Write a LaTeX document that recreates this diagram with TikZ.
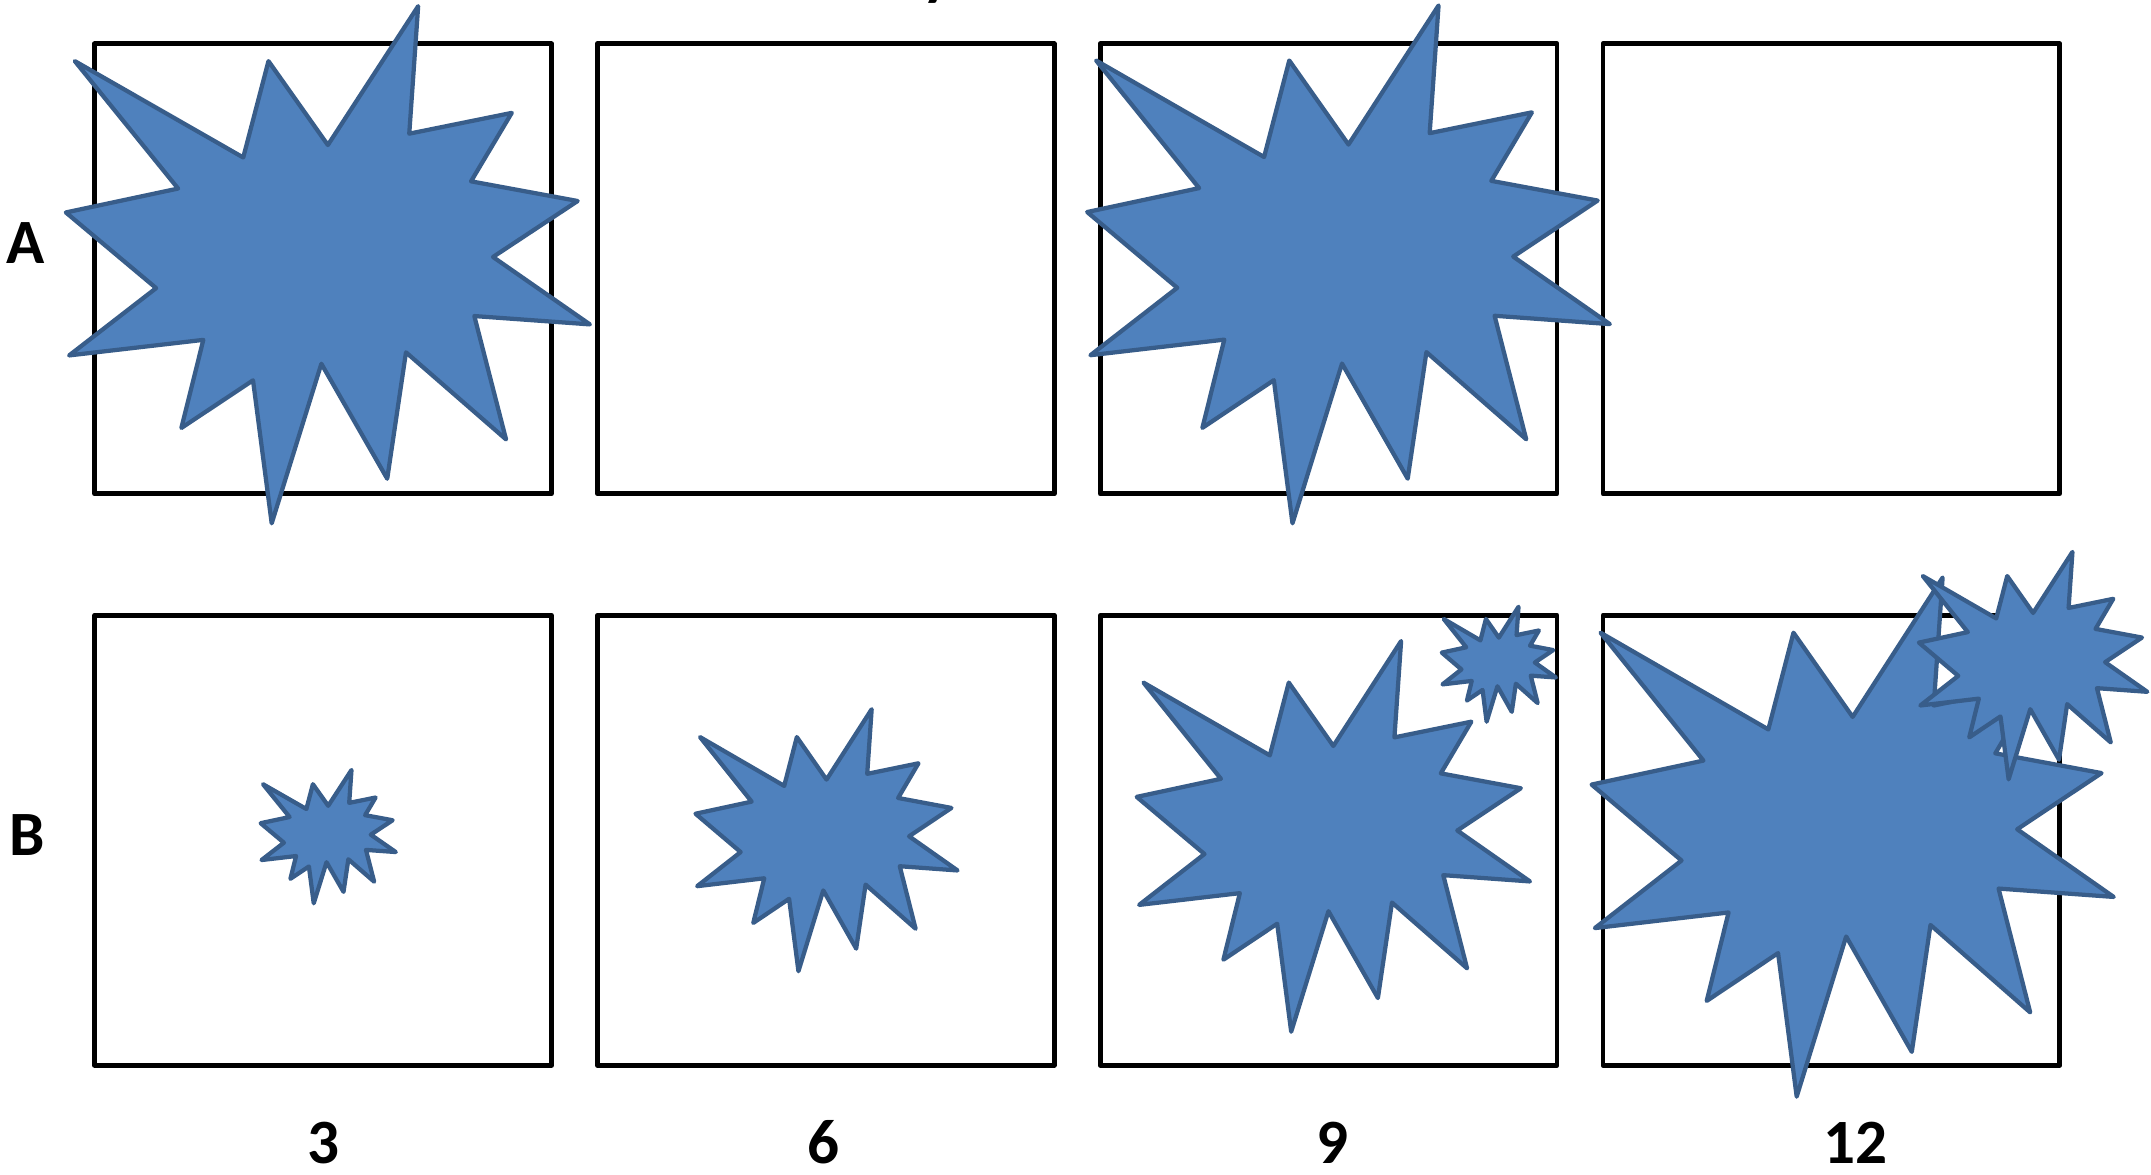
\documentclass[tikz,border=0pt]{standalone}
\usepackage{fontspec}
\setmainfont{Carlito}
\definecolor{sealfill}{HTML}{4F81BD}
\definecolor{sealdraw}{HTML}{385D8A}
\tikzset{
  panel/.style={draw=black, line width=3.6pt, line join=round, fill=none,
    minimum width=333pt, minimum height=328pt, inner sep=0pt, outer sep=0pt},
  sealstyle/.style={fill=sealfill, draw=sealdraw, line width=3.1pt, line join=round},
  lab/.style={font=\bfseries\fontsize{46}{50}\selectfont, inner sep=0pt, anchor=base}
}
\newcommand{\explosionshape}[4]{%
  \begin{scope}[shift={(#1,#2)}, xscale={(#3-#1)/100}, yscale={(#4-#2)/100}]
    \filldraw[sealstyle] (50,26.852) -- (67.231,0) -- (65.532,24.653) -- (85.093,20.634)
      -- (77.324,33.866) -- (97.671,37.671) -- (81.514,48.495) -- (100,61.528)
      -- (77.949,59.917) -- (84.005,83.773) -- (64.907,66.931) -- (61.329,91.375)
      -- (48.759,69.144) -- (39.282,100) -- (35.718,72.347) -- (22.046,81.560)
      -- (26.236,64.523) -- (0.625,67.532) -- (17.231,54.514) -- (0,39.884)
      -- (21.421,35.264) -- (1.713,10.625) -- (33.852,29.259) -- (38.667,10.625) -- cycle;
  \end{scope}}
\begin{document}
\begin{tikzpicture}[x=1pt, y=-1pt]
  \useasboundingbox (0,0) rectangle (1568,856.5);
  % cut-off title fragment
  \node[lab, anchor=base west] (title) at (672.5,-4.6) {y};
  % panels
  \node[panel] (a1) at (235.5,196) {};
  \node[panel] (a2) at (602,196) {};
  \node[panel] (a3) at (968.5,196) {};
  \node[panel] (a4) at (1335,196) {};
  \node[panel] (b1) at (235.5,612.5) {};
  \node[panel] (b2) at (602,612.5) {};
  \node[panel] (b3) at (968.5,612.5) {};
  \node[panel] (b4) at (1335,612.5) {};
  % explosions
  \explosionshape{48}{4.5}{430}{381.5}
  \explosionshape{792.5}{4}{1173.5}{381.5}
  \explosionshape{190}{561.3}{288.5}{658.5}
  \explosionshape{507}{517}{698}{708}
  \explosionshape{828.6}{467.3}{1115.3}{752.1}
  \explosionshape{1051}{442.3}{1134.2}{526.1}
  \explosionshape{1160.2}{421}{1540.8}{799.4}
  \explosionshape{1398.8}{402.3}{1565.3}{568.1}
  % labels
  \node[lab] (rowA) at (18.5,192.4) {A};
  \node[lab] (rowB) at (20,623.3) {B};
  \node[lab] (c3) at (236,848) {3};
  \node[lab] (c6) at (600,848) {6};
  \node[lab] (c9) at (971,848) {9};
  \node[lab] (c12) at (1352.6,848) {12};
\end{tikzpicture}
\end{document}
